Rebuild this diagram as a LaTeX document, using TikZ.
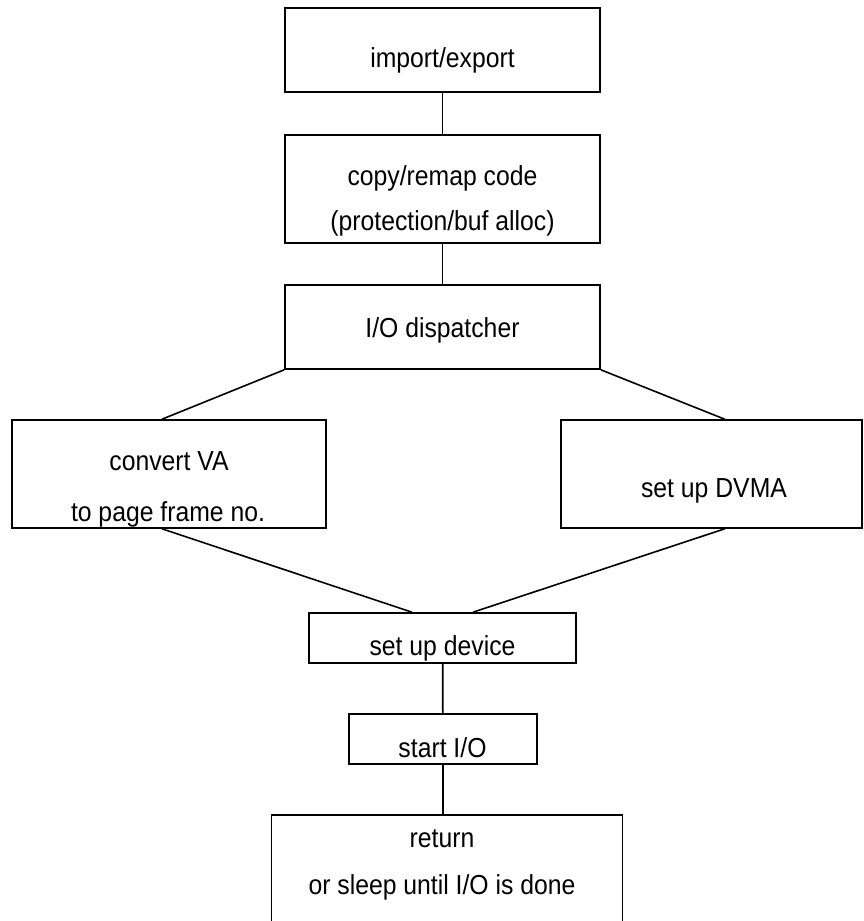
\documentclass[tikz,border=0pt]{standalone}
\usepackage{fontspec}
\setmainfont{Liberation Sans}
\usepackage{graphicx}
\newcommand\cnd[1]{\scalebox{0.9}[1]{#1}}
\begin{document}
\begin{tikzpicture}[x=1pt,y=-1pt,
  box/.style={draw, line width=1.6pt, inner sep=0pt, rectangle},
  tx/.style={font=\fontsize{27.5}{27.5}\selectfont, inner sep=0pt, anchor=base},
  ln/.style={line width=1.6pt}]
\useasboundingbox (0,0) rectangle (863,921);
% boxes
\node[box, minimum width=315pt, minimum height=84pt]  (imp)  at (442.5,50)  {};
\node[box, minimum width=315pt, minimum height=108pt] (cp)   at (442.5,189) {};
\node[box, minimum width=315pt, minimum height=84pt]  (disp) at (442.5,327) {};
\node[box, minimum width=314pt, minimum height=108pt] (cv)   at (169,474)   {};
\node[box, minimum width=301pt, minimum height=108pt] (dv)   at (711.3,474) {};
\node[box, minimum width=267pt, minimum height=50pt]  (dev)  at (442.7,638) {};
\node[box, minimum width=188pt, minimum height=50pt]  (st)   at (442.8,739) {};
\node[box, minimum width=351pt, minimum height=110pt] (ret)  at (447,870)   {};
% texts
\node[tx] (timp)  at (442.5,67)  {\cnd{import/export}};
\node[tx] (tcp1)  at (442.5,185) {\cnd{copy/remap code}};
\node[tx] (tcp2)  at (442.5,230) {\cnd{(protection/buf alloc)}};
\node[tx] (tdisp) at (442.5,337) {\cnd{I/O dispatcher}};
\node[tx] (tcv1)  at (169,470)   {\cnd{convert VA}};
\node[tx] (tcv2)  at (168,521)   {\cnd{to page frame no.}};
\node[tx] (tdv)   at (714,497)   {\cnd{set up DVMA}};
\node[tx] (tdev)  at (442.5,655) {\cnd{set up device}};
\node[tx] (tst)   at (442.5,757) {\cnd{start I/O}};
\node[tx] (tret1) at (442,847)   {\cnd{return}};
\node[tx] (tret2) at (442,894)   {\cnd{or sleep until I/O is done}};
% connectors
\draw[ln] (imp.south) -- (cp.north);
\draw[ln] (cp.south) -- (disp.north);
\draw[ln] (disp.south west) -- ([xshift=-7pt]cv.north);
\draw[ln] (disp.south east) -- ([xshift=13.4pt]dv.north);
\draw[ln] ([xshift=-7pt]cv.south) -- ([xshift=-30.7pt]dev.north);
\draw[ln] ([xshift=13.4pt]dv.south) -- ([xshift=30.3pt]dev.north);
\draw[ln] (dev.south) -- (st.north);
\draw[ln] (st.south) -- (st.south |- ret.north);
\end{tikzpicture}
\end{document}
